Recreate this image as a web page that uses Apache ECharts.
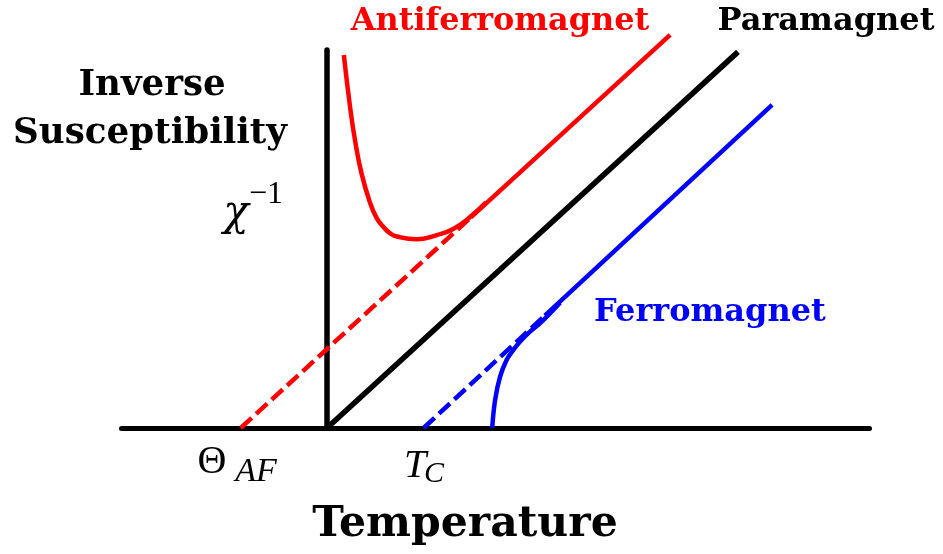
<!DOCTYPE html>
<html>
<head>
<meta charset="utf-8">
<script src="https://cdn.jsdelivr.net/npm/echarts@6/dist/echarts.min.js"></script>
<style>
  html, body { margin: 0; padding: 0; background: #fff; }
  #chart { width: 943px; height: 554px; }
</style>
</head>
<body>
<div id="chart"></div>
<script>
// Inverse susceptibility vs temperature (schematic, arbitrary units)
// Paramagnet: Curie law, 1/chi = T
const paraT = [0, 10];
const paraY = [0, 10];

// Antiferromagnet: Curie-Weiss asymptote crossing at Theta_AF
const afLineT = [-2.1, 3.5, 8.35];
const afLineY = [0, 5.6, 10.45];
// measured curve below the Neel region
const afCurveT = [0.41, 0.56, 0.68, 0.84, 1.05, 1.21, 1.37, 1.53, 1.70, 2.18, 2.67, 3.07, 3.48, 3.87];
const afCurveY = [9.92, 8.55, 7.66, 6.77, 5.98, 5.58, 5.35, 5.18, 5.09, 5.02, 5.13, 5.29, 5.61, 6.00];

// Ferromagnet: Curie-Weiss asymptote crossing at T_C
const fmLineT = [2.35, 5.3, 10.83];
const fmLineY = [0, 2.99, 8.59];
const fmCurveT = [4.02, 4.09, 4.21, 4.37, 4.53, 4.70, 4.94, 5.18, 5.43, 5.67];
const fmCurveY = [0, 0.745, 1.36, 1.81, 2.07, 2.30, 2.56, 2.78, 3.05, 3.33];

const xRange = [-5, 13.2];
const yRange = [0, 10.05];

const RED = '#ff0000', BLUE = '#0000ff', BLACK = '#000000';
const pairs = (xs, ys) => xs.map((x, i) => [x, ys[i]]);

const chart = echarts.init(document.getElementById('chart'), null, { renderer: 'canvas' });

function lineSeries(name, data, color, width, opts) {
  return Object.assign({
    name, type: 'line', data, showSymbol: false, symbol: 'none', clip: false,
    silent: true, animation: false,
    lineStyle: { color, width, type: 'solid', cap: 'butt' }
  }, opts || {});
}

const serif = '"DejaVu Serif", "Liberation Serif", serif';
const times = '"Liberation Serif", serif';

function txt(text, x, y, size, color, weight, style, family, align) {
  return {
    type: 'text', x, y, silent: true,
    style: {
      text, fill: color, font: (style || 'normal') + ' ' + (weight || 'bold') + ' ' + size + 'px ' + (family || serif),
      textAlign: align || 'center', textVerticalAlign: 'middle'
    }
  };
}

chart.setOption({
  animation: false,
  grid: { left: 121.5, right: 73.5, top: 50, bottom: 126 },
  xAxis: {
    type: 'value', min: xRange[0], max: xRange[1],
    axisLine: { onZero: false, lineStyle: { color: BLACK, width: 5 } },
    axisTick: { show: false }, axisLabel: { show: false }, splitLine: { show: false }
  },
  yAxis: {
    type: 'value', min: yRange[0], max: yRange[1],
    axisLine: { onZero: true, lineStyle: { color: BLACK, width: 5.5 } },
    axisTick: { show: false }, axisLabel: { show: false }, splitLine: { show: false }
  },
  series: [
    lineSeries('AF asymptote (dashed)', pairs(afLineT.slice(0, 2), afLineY.slice(0, 2)), RED, 4.5,
      { lineStyle: { color: RED, width: 4.5, type: [15, 6], cap: 'butt' } }),
    lineSeries('AF asymptote', pairs(afLineT.slice(1), afLineY.slice(1)), RED, 4.5),
    lineSeries('Antiferromagnet', pairs(afCurveT, afCurveY), RED, 4.5, { smooth: 0.5 }),
    lineSeries('FM asymptote (dashed)', pairs(fmLineT.slice(0, 2), fmLineY.slice(0, 2)), BLUE, 4.5,
      { lineStyle: { color: BLUE, width: 4.5, type: [15, 6], cap: 'butt' } }),
    lineSeries('FM asymptote', pairs(fmLineT.slice(1), fmLineY.slice(1)), BLUE, 4.5),
    lineSeries('Ferromagnet', pairs(fmCurveT, fmCurveY), BLUE, 4.5, { smooth: 0.4 }),
    lineSeries('Paramagnet', pairs(paraT, paraY), BLACK, 5.5)
  ],
  graphic: [
    txt('Inverse', 152, 86, 35.6, BLACK),
    txt('Susceptibility', 150, 134, 35.7, BLACK),
    txt('χ', 236, 214, 42, BLACK, 'normal', 'italic', serif),
    txt('−1', 266, 195, 32, BLACK, 'normal', 'normal', times),
    txt('Antiferromagnet', 500, 22, 31.9, RED),
    txt('Paramagnet', 826, 22, 32, BLACK),
    txt('Ferromagnet', 710, 313, 32, BLUE),
    txt('Θ', 212, 462, 40, BLACK, 'normal', 'normal', times),
    txt('AF', 256, 472, 34, BLACK, 'normal', 'italic', times),
    txt('T', 415, 466, 40, BLACK, 'normal', 'italic', times),
    txt('C', 434, 474, 30, BLACK, 'normal', 'italic', times),
    txt('Temperature', 465, 525, 42.5, BLACK)
  ]
});
</script>
</body>
</html>
